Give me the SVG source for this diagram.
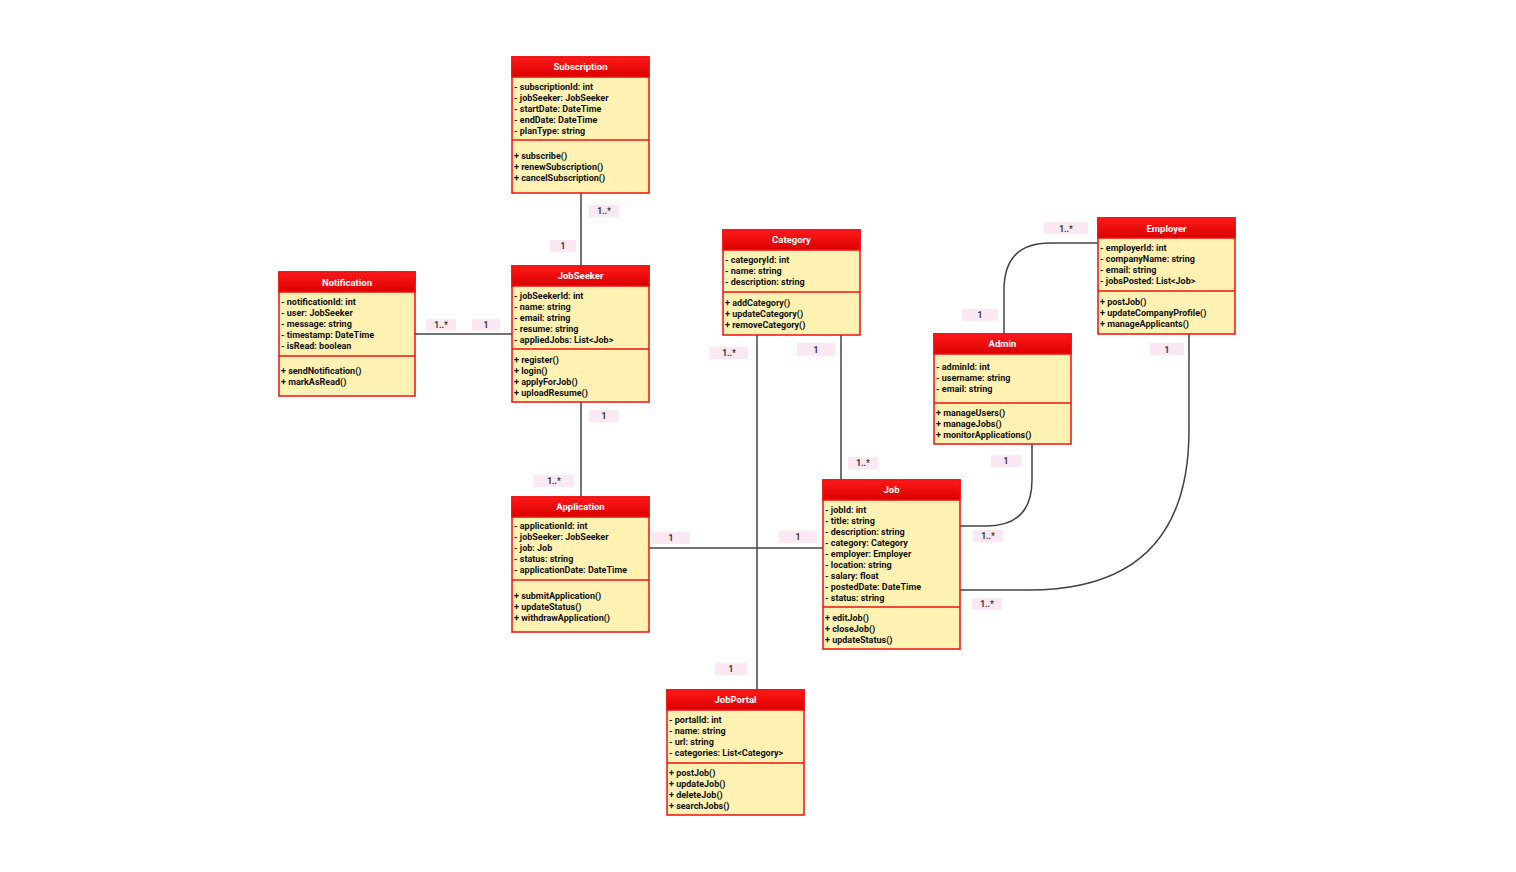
<svg xmlns="http://www.w3.org/2000/svg" width="1516" height="872" viewBox="0 0 1516 872">
<defs>
<linearGradient id="hg" x1="0" y1="0" x2="0" y2="1"><stop offset="0" stop-color="#ff1a1a"/><stop offset="1" stop-color="#d90000"/></linearGradient>
</defs>
<style>
.box{fill:#fff2b3;stroke:#ee1111;stroke-width:1.5}
.hd{fill:url(#hg);stroke:#ee1111;stroke-width:1.5}
.sep{stroke:#ee1111;stroke-width:1.5}
.t{font-family:Roboto,"Liberation Sans",sans-serif;font-size:9px;font-weight:bold;fill:#111}
.h{font-family:Roboto,"Liberation Sans",sans-serif;font-size:9.5px;font-weight:bold;fill:#fff;text-anchor:middle}
.ln{fill:none;stroke:#444;stroke-width:1.5}
.lb{fill:#fce8f3}
.lt{font-family:Roboto,"Liberation Sans",sans-serif;font-size:8.5px;font-weight:bold;fill:#333;text-anchor:middle}
</style>
<rect width="1516" height="872" fill="#fff"/>
<g id="connectors">
<path class="ln" d="M581 193V266"/>
<path class="ln" d="M415 334H512"/>
<path class="ln" d="M581 402V497"/>
<path class="ln" d="M649 548H823"/>
<path class="ln" d="M757 335V690"/>
<path class="ln" d="M841 335V480"/>
<path class="ln" d="M1032 444V480Q1032 526 986 526H960"/>
<path class="ln" d="M1098 243H1050Q1004 243 1004 290V334"/>
<path class="ln" d="M1189 334V430Q1189 590 1029 590H960"/>
<g id="labels">
<rect class="lb" x="589" y="205" width="30" height="12"/><text class="lt" x="604" y="214">1..*</text>
<rect class="lb" x="550" y="240" width="26" height="12"/><text class="lt" x="563" y="249">1</text>
<rect class="lb" x="426" y="319" width="30" height="12"/><text class="lt" x="441" y="328">1..*</text>
<rect class="lb" x="472" y="319" width="28" height="12"/><text class="lt" x="486" y="328">1</text>
<rect class="lb" x="589" y="410" width="30" height="12"/><text class="lt" x="604" y="419">1</text>
<rect class="lb" x="534" y="475" width="40" height="12"/><text class="lt" x="554" y="484">1..*</text>
<rect class="lb" x="652" y="532" width="38" height="12"/><text class="lt" x="671" y="541">1</text>
<rect class="lb" x="779" y="531" width="38" height="12"/><text class="lt" x="798" y="540">1</text>
<rect class="lb" x="710" y="347" width="38" height="12"/><text class="lt" x="729" y="356">1..*</text>
<rect class="lb" x="715" y="663" width="32" height="12"/><text class="lt" x="731" y="672">1</text>
<rect class="lb" x="797" y="343" width="38" height="13"/><text class="lt" x="816" y="353">1</text>
<rect class="lb" x="848" y="457" width="30" height="12"/><text class="lt" x="863" y="466">1..*</text>
<rect class="lb" x="991" y="455" width="30" height="12"/><text class="lt" x="1006" y="464">1</text>
<rect class="lb" x="973" y="530" width="30" height="12"/><text class="lt" x="988" y="539">1..*</text>
<rect class="lb" x="1044" y="222" width="44" height="12"/><text class="lt" x="1066" y="232">1..*</text>
<rect class="lb" x="962" y="309" width="36" height="12"/><text class="lt" x="980" y="318">1</text>
<rect class="lb" x="1150" y="343" width="34" height="12"/><text class="lt" x="1167" y="353">1</text>
<rect class="lb" x="972" y="598" width="30" height="12"/><text class="lt" x="987" y="607">1..*</text>
</g>
</g>
<g id="Subscription">
<rect class="box" x="512" y="57" width="137" height="136"/><rect class="hd" x="512" y="57" width="137" height="20"/>
<text class="h" x="580.5" y="70">Subscription</text><line class="sep" x1="512" y1="140" x2="649" y2="140"/>
<text class="t" x="514" y="90">- subscriptionId: int</text><text class="t" x="514" y="101">- jobSeeker: JobSeeker</text><text class="t" x="514" y="112">- startDate: DateTime</text><text class="t" x="514" y="123">- endDate: DateTime</text><text class="t" x="514" y="134">- planType: string</text>
<text class="t" x="514" y="159">+ subscribe()</text><text class="t" x="514" y="170">+ renewSubscription()</text><text class="t" x="514" y="181">+ cancelSubscription()</text>
</g>
<g id="JobSeeker">
<rect class="box" x="512" y="266" width="137" height="136"/><rect class="hd" x="512" y="266" width="137" height="20"/>
<text class="h" x="580.5" y="279">JobSeeker</text><line class="sep" x1="512" y1="349" x2="649" y2="349"/>
<text class="t" x="514" y="299">- jobSeekerId: int</text><text class="t" x="514" y="310">- name: string</text><text class="t" x="514" y="321">- email: string</text><text class="t" x="514" y="332">- resume: string</text><text class="t" x="514" y="343">- appliedJobs: List&lt;Job&gt;</text>
<text class="t" x="514" y="363">+ register()</text><text class="t" x="514" y="374">+ login()</text><text class="t" x="514" y="385">+ applyForJob()</text><text class="t" x="514" y="396">+ uploadResume()</text>
</g>
<g id="Notification">
<rect class="box" x="279" y="272" width="136" height="124"/><rect class="hd" x="279" y="272" width="136" height="20"/>
<text class="h" x="347" y="286">Notification</text><line class="sep" x1="279" y1="356" x2="415" y2="356"/>
<text class="t" x="281" y="305">- notificationId: int</text><text class="t" x="281" y="316">- user: JobSeeker</text><text class="t" x="281" y="327">- message: string</text><text class="t" x="281" y="338">- timestamp: DateTime</text><text class="t" x="281" y="349">- isRead: boolean</text>
<text class="t" x="281" y="374">+ sendNotification()</text><text class="t" x="281" y="385">+ markAsRead()</text>
</g>
<g id="Category">
<rect class="box" x="723" y="230" width="137" height="105"/><rect class="hd" x="723" y="230" width="137" height="20"/>
<text class="h" x="791.5" y="243">Category</text><line class="sep" x1="723" y1="292" x2="860" y2="292"/>
<text class="t" x="725" y="263">- categoryId: int</text><text class="t" x="725" y="274">- name: string</text><text class="t" x="725" y="285">- description: string</text>
<text class="t" x="725" y="306">+ addCategory()</text><text class="t" x="725" y="317">+ updateCategory()</text><text class="t" x="725" y="328">+ removeCategory()</text>
</g>
<g id="Employer">
<rect class="box" x="1098" y="218" width="137" height="116"/><rect class="hd" x="1098" y="218" width="137" height="20"/>
<text class="h" x="1166.5" y="232">Employer</text><line class="sep" x1="1098" y1="291" x2="1235" y2="291"/>
<text class="t" x="1100" y="251">- employerId: int</text><text class="t" x="1100" y="262">- companyName: string</text><text class="t" x="1100" y="273">- email: string</text><text class="t" x="1100" y="284">- jobsPosted: List&lt;Job&gt;</text>
<text class="t" x="1100" y="305">+ postJob()</text><text class="t" x="1100" y="316">+ updateCompanyProfile()</text><text class="t" x="1100" y="327">+ manageApplicants()</text>
</g>
<g id="Admin">
<rect class="box" x="934" y="334" width="137" height="110"/><rect class="hd" x="934" y="334" width="137" height="20"/>
<text class="h" x="1002.5" y="347">Admin</text><line class="sep" x1="934" y1="403" x2="1071" y2="403"/>
<text class="t" x="936" y="370">- adminId: int</text><text class="t" x="936" y="381">- username: string</text><text class="t" x="936" y="392">- email: string</text>
<text class="t" x="936" y="416">+ manageUsers()</text><text class="t" x="936" y="427">+ manageJobs()</text><text class="t" x="936" y="438">+ monitorApplications()</text>
</g>
<g id="Application">
<rect class="box" x="512" y="497" width="137" height="135"/><rect class="hd" x="512" y="497" width="137" height="20"/>
<text class="h" x="580.5" y="510">Application</text><line class="sep" x1="512" y1="580" x2="649" y2="580"/>
<text class="t" x="514" y="529">- applicationId: int</text><text class="t" x="514" y="540">- jobSeeker: JobSeeker</text><text class="t" x="514" y="551">- job: Job</text><text class="t" x="514" y="562">- status: string</text><text class="t" x="514" y="573">- applicationDate: DateTime</text>
<text class="t" x="514" y="599">+ submitApplication()</text><text class="t" x="514" y="610">+ updateStatus()</text><text class="t" x="514" y="621">+ withdrawApplication()</text>
</g>
<g id="Job">
<rect class="box" x="823" y="480" width="137" height="169"/><rect class="hd" x="823" y="480" width="137" height="20"/>
<text class="h" x="891.5" y="493">Job</text><line class="sep" x1="823" y1="607" x2="960" y2="607"/>
<text class="t" x="825" y="513">- jobId: int</text><text class="t" x="825" y="524">- title: string</text><text class="t" x="825" y="535">- description: string</text><text class="t" x="825" y="546">- category: Category</text><text class="t" x="825" y="557">- employer: Employer</text><text class="t" x="825" y="568">- location: string</text><text class="t" x="825" y="579">- salary: float</text><text class="t" x="825" y="590">- postedDate: DateTime</text><text class="t" x="825" y="601">- status: string</text>
<text class="t" x="825" y="621">+ editJob()</text><text class="t" x="825" y="632">+ closeJob()</text><text class="t" x="825" y="643">+ updateStatus()</text>
</g>
<g id="JobPortal">
<rect class="box" x="667" y="690" width="137" height="125"/><rect class="hd" x="667" y="690" width="137" height="20"/>
<text class="h" x="735.5" y="703">JobPortal</text><line class="sep" x1="667" y1="763" x2="804" y2="763"/>
<text class="t" x="669" y="723">- portalId: int</text><text class="t" x="669" y="734">- name: string</text><text class="t" x="669" y="745">- url: string</text><text class="t" x="669" y="756">- categories: List&lt;Category&gt;</text>
<text class="t" x="669" y="776">+ postJob()</text><text class="t" x="669" y="787">+ updateJob()</text><text class="t" x="669" y="798">+ deleteJob()</text><text class="t" x="669" y="809">+ searchJobs()</text>
</g>
</svg>
